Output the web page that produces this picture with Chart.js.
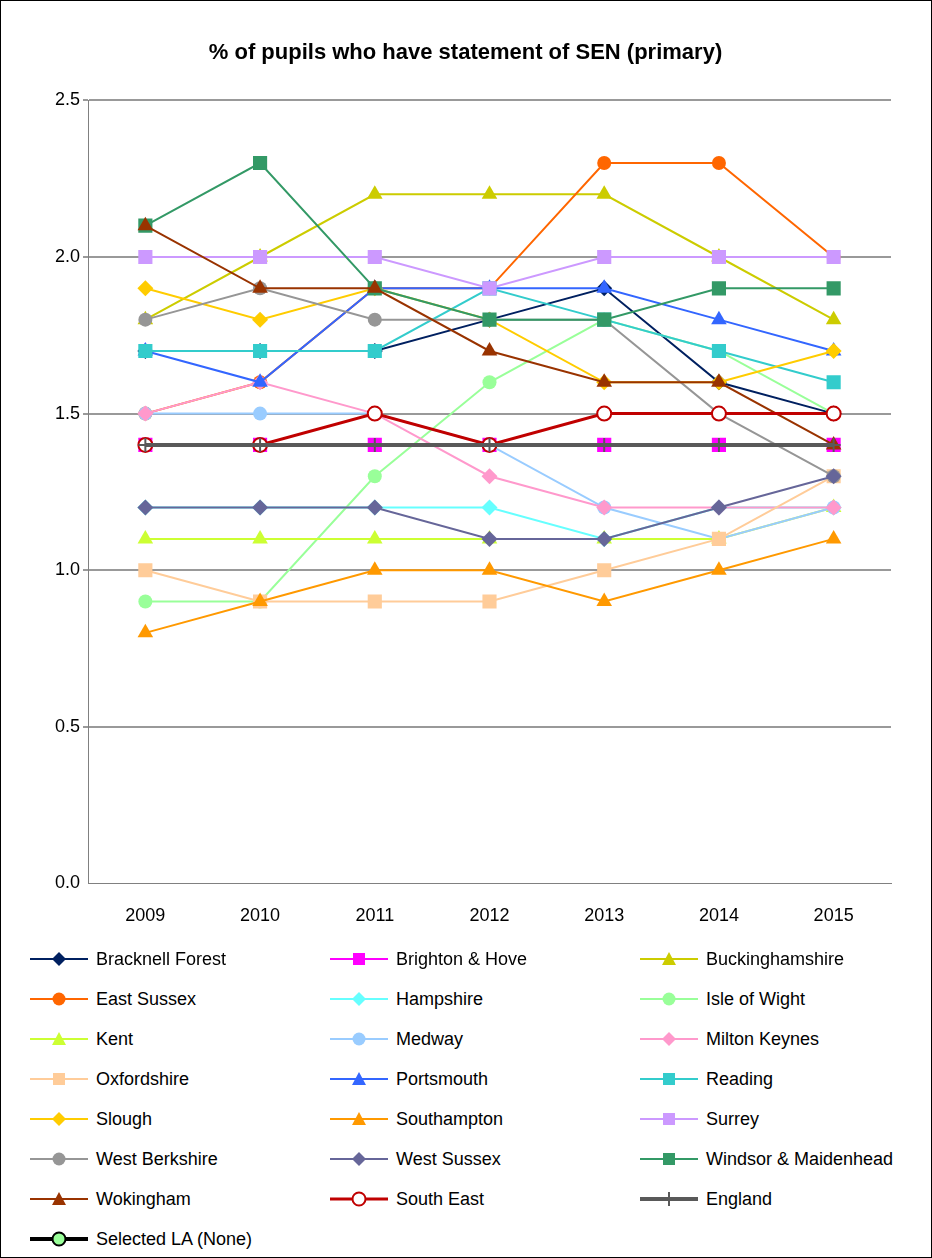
<!DOCTYPE html>
<html><head><meta charset="utf-8">
<script src="https://cdn.jsdelivr.net/npm/chart.js@4.4.1/dist/chart.umd.min.js"></script>
<style>
body{margin:0;background:#fff;font-family:"Liberation Sans",Arial,sans-serif;}
#frame{position:absolute;left:0;top:0;width:930px;height:1256px;border:1px solid #000;}
#chartBox{position:absolute;left:0;top:0;width:932px;height:941px;}
#legend{position:absolute;left:30px;top:939px;width:900px;}
#legend .item{position:absolute;height:40px;display:flex;align-items:center;font-size:18px;color:#000;}
#legend svg{margin-right:6px;}
</style></head>
<body>
<div id="frame"></div>
<div id="chartBox"><canvas id="c"></canvas></div>
<div id="legend"></div>
<script>
const years = ["2009","2010","2011","2012","2013","2014","2015"];
const names = ["Bracknell Forest","Brighton & Hove","Buckinghamshire","East Sussex","Hampshire","Isle of Wight","Kent","Medway","Milton Keynes","Oxfordshire","Portsmouth","Reading","Slough","Southampton","Surrey","West Berkshire","West Sussex","Windsor & Maidenhead","Wokingham","South East","England","Selected LA (None)"];
const bracknell = [1.7,1.7,1.7,1.8,1.9,1.6,1.5];
const brighton = [1.4,1.4,1.4,1.4,1.4,1.4,1.4];
const bucks = [1.8,2.0,2.2,2.2,2.2,2.0,1.8];
const eastSussex = [1.5,1.6,1.9,1.9,2.3,2.3,2.0];
const hampshire = [1.2,1.2,1.2,1.2,1.1,1.2,1.2];
const isleOfWight = [0.9,0.9,1.3,1.6,1.8,1.7,1.5];
const kent = [1.1,1.1,1.1,1.1,1.1,1.1,1.2];
const medway = [1.5,1.5,1.5,1.4,1.2,1.1,1.2];
const miltonKeynes = [1.5,1.6,1.5,1.3,1.2,1.2,1.2];
const oxfordshire = [1.0,0.9,0.9,0.9,1.0,1.1,1.3];
const portsmouth = [1.7,1.6,1.9,1.9,1.9,1.8,1.7];
const reading = [1.7,1.7,1.7,1.9,1.8,1.7,1.6];
const slough = [1.9,1.8,1.9,1.8,1.6,1.6,1.7];
const southampton = [0.8,0.9,1.0,1.0,0.9,1.0,1.1];
const surrey = [2.0,2.0,2.0,1.9,2.0,2.0,2.0];
const westBerks = [1.8,1.9,1.8,1.8,1.8,1.5,1.3];
const westSussex = [1.2,1.2,1.2,1.1,1.1,1.2,1.3];
const windsor = [2.1,2.3,1.9,1.8,1.8,1.9,1.9];
const wokingham = [2.1,1.9,1.9,1.7,1.6,1.6,1.4];
const southEast = [1.4,1.4,1.5,1.4,1.5,1.5,1.5];
const england = [1.4,1.4,1.4,1.4,1.4,1.4,1.4];
const selectedLA = [null,null,null,null,null,null,null];

const values = [bracknell,brighton,bucks,eastSussex,hampshire,isleOfWight,kent,medway,miltonKeynes,oxfordshire,portsmouth,reading,slough,southampton,surrey,westBerks,westSussex,windsor,wokingham,southEast,england,selectedLA];
// colour, marker, line width, marker fill
const styles = [
  ["#002060","rectRot",2],["#FF00FF","rect",2],["#CCCC00","triangle",2],["#FF6600","circle",2],
  ["#66FFFF","rectRot",2],["#99FF99","circle",2],["#CCFF33","triangle",2],["#99CCFF","circle",2],
  ["#FF99CC","rectRot",2],["#FFCC99","rect",2],["#3366FF","triangle",2],["#33CCCC","rect",2],
  ["#FFCC00","rectRot",2],["#FF9900","triangle",2],["#CC99FF","rect",2],["#969696","circle",2],
  ["#666699","rectRot",2],["#339966","rect",2],["#993300","triangle",2],["#C00000","circle",3,"#FFFFFF"],
  ["#595959","cross",4],["#000000","circle",4,"#99FF99"]
];
const radius = { rect: 10, rectRot: 8, triangle: 9, circle: 7, cross: 7 };

// later series sit on top, as in the original
const datasets = names.map((n, i) => {
  const s = styles[i];
  const isCross = s[1] === "cross";
  const isOpen = !!s[3];
  return {
    label: n,
    data: values[i],
    borderColor: s[0],
    backgroundColor: s[3] || s[0],
    borderWidth: s[2],
    pointStyle: s[1],
    pointRadius: radius[s[1]],
    pointBackgroundColor: s[3] || s[0],
    pointBorderColor: s[0],
    pointBorderWidth: isCross ? 2 : (isOpen ? 2 : 0),
    tension: 0,
    order: names.length - i,
  };
});

new Chart(document.getElementById("c"), {
  type: "line",
  data: { labels: years, datasets: datasets },
  options: {
    responsive: true,
    maintainAspectRatio: false,
    animation: false,
    layout: { padding: { left: 40, right: 41, top: 0, bottom: 0 } },
    scales: {
      x: {
        offset: true,
        grid: { display: false },
        border: { color: "#808080" },
        ticks: { color: "#000", font: { size: 18, family: "Liberation Sans" }, padding: 14 },
      },
      y: {
        min: 0, max: 2.5,
        afterFit: (a) => { a.width = 48; },
        ticks: { stepSize: 0.5, color: "#000", font: { size: 18, family: "Liberation Sans" }, callback: (v) => v.toFixed(1) },
        grid: { color: (c) => c.tick.value === 0 ? "rgba(0,0,0,0)" : "#999999", lineWidth: 2, tickLength: 5 },
        border: { color: "#808080" },
      },
    },
    plugins: {
      legend: { display: false },
      tooltip: { enabled: false },
      title: {
        display: true,
        text: "% of pupils who have statement of SEN (primary)",
        color: "#000",
        font: { size: 22, weight: "bold", family: "Liberation Sans" },
        padding: { top: 40, bottom: 34 },
      },
    },
  },
});

// custom legend in three columns
const legend = document.getElementById("legend");
const colX = [0, 300, 610];
datasets.forEach((d, i) => {
  const item = document.createElement("DIV");
  item.className = "item";
  item.style.left = colX[i % 3] + "px";
  item.style.top = Math.floor(i / 3) * 40 + "px";
  const c = d.borderColor, f = d.pointBackgroundColor, lw = d.borderWidth;
  let mk = "";
  if (d.pointStyle === "rect") mk = `<rect x="23" y="13" width="12" height="12" fill="${f}"/>`;
  else if (d.pointStyle === "rectRot") mk = `<polygon points="29,12 36,19 29,26 22,19" fill="${f}"/>`;
  else if (d.pointStyle === "triangle") mk = `<polygon points="29,12 36,25 22,25" fill="${f}"/>`;
  else if (d.pointStyle === "circle") mk = `<circle cx="29" cy="19" r="6.5" fill="${f}" stroke="${c}" stroke-width="${f === c ? 0 : 2}"/>`;
  else if (d.pointStyle === "cross") mk = `<line x1="29" y1="12" x2="29" y2="26" stroke="${c}" stroke-width="2"/>`;
  item.innerHTML = `<svg width="60" height="38"><line x1="0" y1="19" x2="58" y2="19" stroke="${c}" stroke-width="${lw}"/>${mk}</svg><span>${d.label.replace("&","&amp;")}</span>`;
  legend.appendChild(item);
});
</script>
</body></html>
